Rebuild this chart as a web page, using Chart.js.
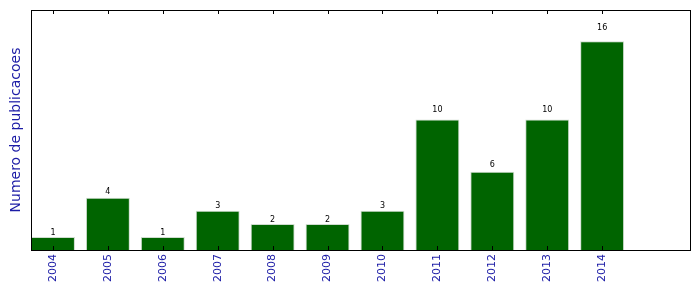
<!DOCTYPE html>
<html>
<head>
<meta charset="utf-8">
<script src="https://cdn.jsdelivr.net/npm/chart.js@4/dist/chart.umd.min.js"></script>
<style>
  html, body { margin: 0; padding: 0; background: #fff; }
  #wrap { width: 699px; height: 292px; }
</style>
</head>
<body>
<div id="wrap"><canvas id="grafico"></canvas></div>
<script>
const anos = ["2004", "2005", "2006", "2007", "2008", "2009", "2010", "2011", "2012", "2013", "2014"];
const publicacoes = [1, 4, 1, 3, 2, 2, 3, 10, 6, 10, 16];
const yMax = 18.4;

const azul = "#1c1ca6";
const verde = "#006400";

// moldura + ticks para dentro (estilo matplotlib) + valores em cima das barras
const molduraPlugin = {
    id: "moldura",
    afterDatasetsDraw(chart) {
        const ctx = chart.ctx;
        const a = chart.chartArea;
        const xs = chart.scales.x;
        const ys = chart.scales.y;
        ctx.save();

        // valores
        ctx.fillStyle = "#000";
        ctx.font = "8px 'DejaVu Sans'";
        ctx.textAlign = "center";
        ctx.textBaseline = "bottom";
        const meta = chart.getDatasetMeta(0);
        meta.data.forEach((bar, i) => {
            ctx.fillText(String(publicacoes[i]), bar.x, ys.getPixelForValue(publicacoes[i] * 1.05) + 1);
        });

        // ticks
        ctx.strokeStyle = "#000";
        ctx.lineWidth = 1;
        xs.ticks.forEach(t => {
            const px = Math.round(xs.getPixelForValue(t.value)) + 0.5;
            ctx.beginPath();
            ctx.moveTo(px, a.top);
            ctx.lineTo(px, a.top + 4);
            ctx.moveTo(px, a.bottom);
            ctx.lineTo(px, a.bottom - 4);
            ctx.stroke();
        });

        // borda
        ctx.strokeRect(a.left + 0.5, a.top + 0.5, a.right - a.left, a.bottom - a.top);
        ctx.restore();
    }
};

new Chart(document.getElementById("grafico"), {
    type: "bar",
    data: {
        datasets: [
            {
                data: publicacoes.map((v, i) => ({ x: i + 0.4, y: v })),
                backgroundColor: verde,
                borderColor: "#cfdccf",
                borderWidth: 1,
                barPercentage: 0.8,
                categoryPercentage: 1
            }
        ]
    },
    options: {
        responsive: true,
        maintainAspectRatio: false,
        animation: false,
        layout: { padding: { top: 10, right: 9, left: 0, bottom: 0 } },
        plugins: {
            legend: { display: false },
            tooltip: { enabled: false }
        },
        scales: {
            x: {
                type: "linear",
                offset: false,
                min: 0,
                max: 12,
                grid: { display: false, drawTicks: false, offset: false },
                border: { display: false },
                afterBuildTicks: scale => {
                    scale.ticks = anos.map((a, i) => ({ value: i + 0.4 }));
                },
                afterFit: scale => { scale.height = 42; },
                ticks: {
                    autoSkip: false,
                    minRotation: 90,
                    maxRotation: 90,
                    padding: 4,
                    color: azul,
                    font: { family: "DejaVu Sans", size: 11 },
                    callback: (v, i) => anos[i]
                }
            },
            y: {
                min: 0,
                max: yMax,
                grid: { display: false, drawTicks: false },
                border: { display: false },
                ticks: { display: false },
                afterFit: scale => { scale.width = 31; },
                title: {
                    display: true,
                    text: "Numero de publicacoes",
                    color: azul,
                    font: { family: "DejaVu Sans", size: 14 },
                    padding: { top: 8, bottom: 0 }
                }
            }
        }
    },
    plugins: [molduraPlugin]
});
</script>
</body>
</html>
